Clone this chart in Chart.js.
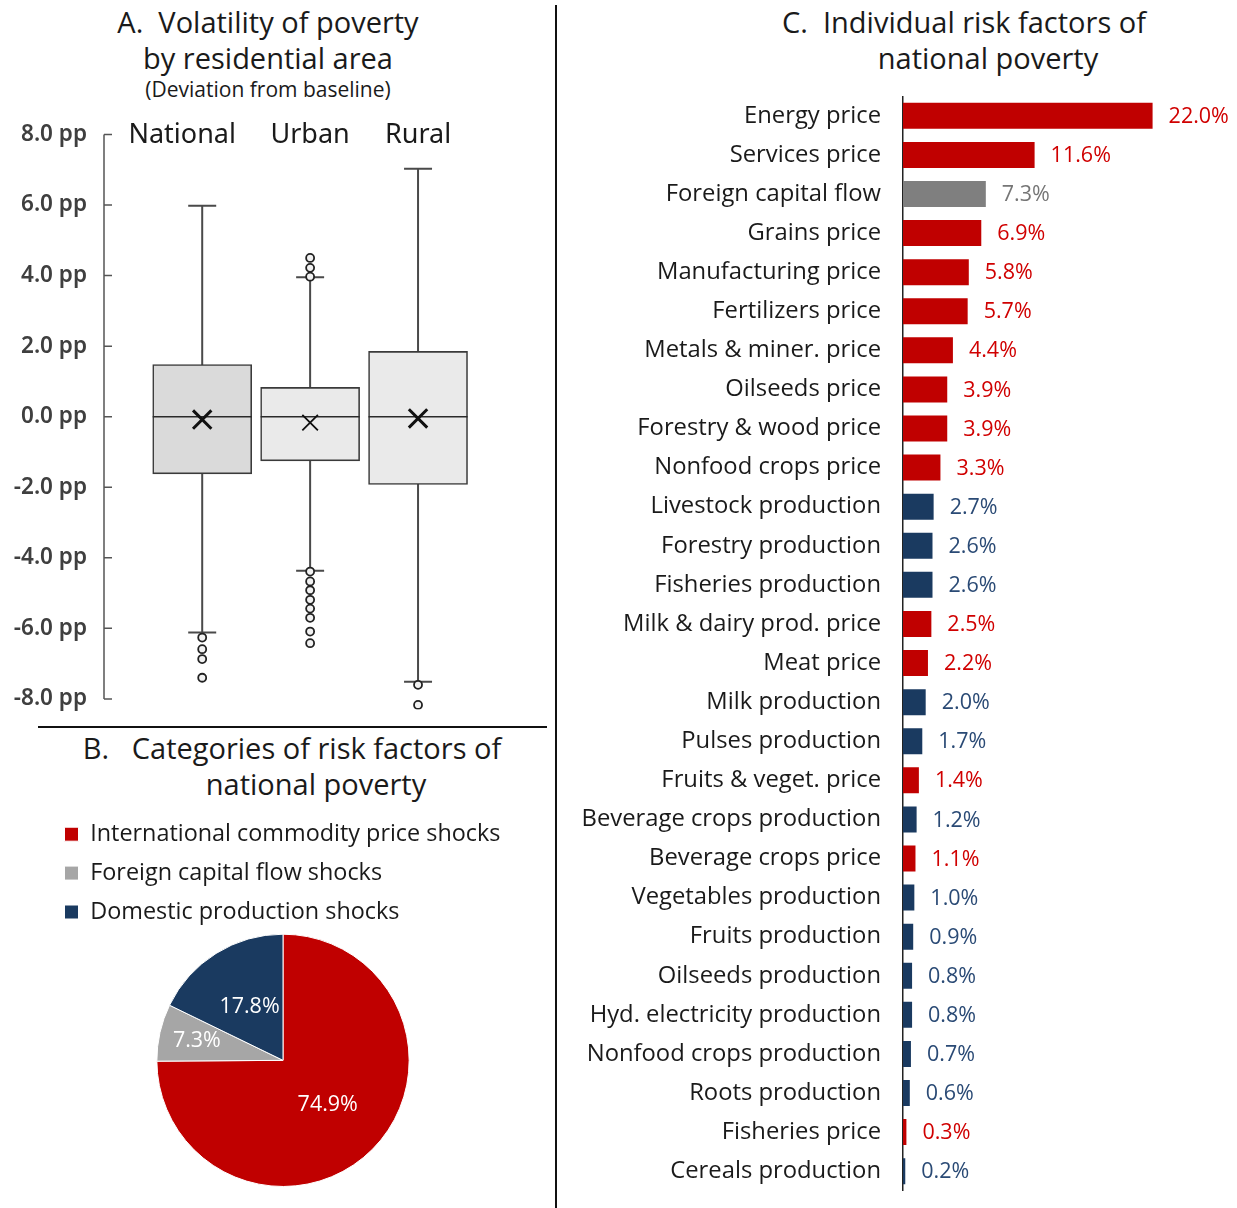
<!DOCTYPE html>
<html>
<head>
<meta charset="utf-8">
<script src="https://cdn.jsdelivr.net/npm/chart.js@4.4.0/dist/chart.umd.min.js"></script>
<style>
  body { margin: 0; background: #fff; width: 1237px; height: 1208px; position: relative; overflow: hidden; font-family: "Open Sans", sans-serif; color: #1a1a1a; }
  .title { position: absolute; text-align: center; white-space: nowrap; font-size: 29px; line-height: 36px; }
  .sub { font-size: 21px; }
  canvas { position: absolute; }
  .rule { position: absolute; background: #111; }
</style>
</head>
<body>
<div class="title" style="left:68px; top:4px; width:400px;">A.&nbsp;&nbsp;Volatility of poverty</div>
<div class="title" style="left:68px; top:40px; width:400px;">by residential area</div>
<div class="title sub" style="left:68px; top:71px; width:400px;">(Deviation from baseline)</div>
<div class="title" style="left:42px; top:730px; width:500px;">B.&nbsp;&nbsp;&nbsp;Categories of risk factors of</div>
<div class="title" style="left:66px; top:766px; width:500px;">national poverty</div>
<div class="title" style="left:764px; top:4px; width:400px;">C.&nbsp;&nbsp;Individual risk factors of</div>
<div class="title" style="left:788px; top:40px; width:400px;">national poverty</div>
<div class="rule" style="left:555px; top:5px; width:2px; height:1203px;"></div>
<div class="rule" style="left:38px; top:726px; width:509px; height:2px;"></div>

<canvas id="boxChart" width="550" height="636" style="left:0; top:104px;"></canvas>
<canvas id="pieChart" width="490" height="388" style="left:40px; top:807px;"></canvas>
<canvas id="barChart" width="677" height="1167" style="left:560px; top:60px;"></canvas>

<script>
// ---- Panel A : box plots (pp deviation from baseline)
const areaNames = ['National', 'Urban', 'Rural'];
const areaPos = [1, 2, 3];
const boxQ1 = [-1.62, -1.25, -1.92];
const boxQ3 = [1.48, 0.83, 1.85];
const boxMedian = [0, 0, 0];
const boxMean = [-0.08, -0.17, -0.05];
const whiskerLow = [-6.12, -4.37, -7.51];
const whiskerHigh = [5.98, 3.95, 7.03];
const outliersNational = [-6.26, -6.59, -6.87, -7.40];
const outliersUrban = [4.50, 4.22, 3.97, -4.39, -4.67, -4.92, -5.19, -5.44, -5.70, -6.09, -6.42];
const outliersRural = [-7.60, -8.17];
const yTicks = [-8, -6, -4, -2, 0, 2, 4, 6, 8];

// ---- Panel B : categories of risk factors (% share)
const shockCategories = ['International commodity price shocks', 'Foreign capital flow shocks', 'Domestic production shocks'];
const shockShares = [74.9, 7.3, 17.8];

// ---- Panel C : individual risk factors (% share)
const factorNames = ['Energy price', 'Services price', 'Foreign capital flow', 'Grains price', 'Manufacturing price',
  'Fertilizers price', 'Metals & miner. price', 'Oilseeds price', 'Forestry & wood price', 'Nonfood crops price',
  'Livestock production', 'Forestry production', 'Fisheries production', 'Milk & dairy prod. price', 'Meat price',
  'Milk production', 'Pulses production', 'Fruits & veget. price', 'Beverage crops production', 'Beverage crops price',
  'Vegetables production', 'Fruits production', 'Oilseeds production', 'Hyd. electricity production',
  'Nonfood crops production', 'Roots production', 'Fisheries price', 'Cereals production'];
const factorShares = [22.0, 11.6, 7.3, 6.9, 5.8, 5.7, 4.4, 3.9, 3.9, 3.3, 2.7, 2.6, 2.6, 2.5, 2.2,
  2.0, 1.7, 1.4, 1.2, 1.1, 1.0, 0.9, 0.8, 0.8, 0.7, 0.6, 0.3, 0.2];
const factorGroup = ['price', 'price', 'capital', 'price', 'price', 'price', 'price', 'price', 'price', 'price',
  'prod', 'prod', 'prod', 'price', 'price', 'prod', 'prod', 'price', 'prod', 'price',
  'prod', 'prod', 'prod', 'prod', 'prod', 'prod', 'price', 'prod'];

const RED = '#C00000', GREY = '#A6A6A6', NAVY = '#1A3A60';
const barFill = { price: RED, capital: '#7F7F7F', prod: NAVY };
const labelInk = { price: '#D00000', capital: '#767676', prod: '#2A4A75' };
const FONT = '"Open Sans"';
const nameNudge = [-20, 0, 0]; // horizontal shift of the area names, px

// ---------- Panel A
const boxParts = {
    id: 'boxParts',
    beforeDatasetsDraw(chart) {
        const { ctx, scales: { x, y } } = chart;
        ctx.save();
        ctx.strokeStyle = '#4a4a4a';
        ctx.lineWidth = 2;
        areaPos.forEach((p, i) => {
            const cx = x.getPixelForValue(p);
            ctx.beginPath();
            ctx.moveTo(cx, y.getPixelForValue(whiskerLow[i]));
            ctx.lineTo(cx, y.getPixelForValue(whiskerHigh[i]));
            [whiskerLow[i], whiskerHigh[i]].forEach(v => {
                const py = y.getPixelForValue(v);
                ctx.moveTo(cx - 14, py);
                ctx.lineTo(cx + 14, py);
            });
            ctx.stroke();
        });
        ctx.restore();
    },
    afterDatasetDraw(chart, args) {
        if (args.index !== 0) return;
        const { ctx, scales: { y } } = chart;
        ctx.save();
        ctx.strokeStyle = '#2a2a2a';
        ctx.lineWidth = 1.6;
        args.meta.data.forEach((bar, i) => {
            const py = y.getPixelForValue(boxMedian[i]);
            ctx.beginPath();
            ctx.moveTo(bar.x - bar.width / 2, py);
            ctx.lineTo(bar.x + bar.width / 2, py);
            ctx.stroke();
        });
        ctx.restore();
    },
    afterDraw(chart) {
        const { ctx, chartArea, scales: { x, y } } = chart;
        const top = y.getPixelForValue(yTicks[yTicks.length - 1]);
        const bottom = y.getPixelForValue(yTicks[0]);
        ctx.save();
        // axis line and inward tick marks
        ctx.strokeStyle = '#555';
        ctx.lineWidth = 1.5;
        ctx.beginPath();
        ctx.moveTo(chartArea.left, top);
        ctx.lineTo(chartArea.left, bottom);
        yTicks.forEach(v => {
            const py = y.getPixelForValue(v);
            ctx.moveTo(chartArea.left, py);
            ctx.lineTo(chartArea.left + 8, py);
        });
        ctx.stroke();
        // area names on top
        ctx.fillStyle = '#1a1a1a';
        ctx.font = '27px "Noto Sans"';
        ctx.textAlign = 'center';
        ctx.textBaseline = 'middle';
        areaNames.forEach((n, i) => ctx.fillText(n, x.getPixelForValue(areaPos[i]) + nameNudge[i], top + 1));
        ctx.restore();
    }
};

const outlierPoints = [];
[outliersNational, outliersUrban, outliersRural].forEach((arr, i) => {
    arr.forEach(v => outlierPoints.push({ x: areaPos[i], y: v }));
});

new Chart(document.getElementById('boxChart'), {
    type: 'bar',
    data: {
        datasets: [{
            type: 'bar',
            data: areaPos.map((p, i) => ({ x: p, y: [boxQ1[i], boxQ3[i]] })),
            backgroundColor: ['#DADADA', '#EAEAEA', '#EAEAEA'],
            borderColor: '#3a3a3a',
            borderWidth: 1.6,
            borderSkipped: false,
            barThickness: 99,
            order: 3
        }, {
            type: 'scatter',
            data: outlierPoints,
            pointStyle: 'circle',
            radius: 4,
            backgroundColor: '#F2F2F2',
            borderColor: '#222',
            borderWidth: 1.8,
            order: 2
        }, {
            type: 'scatter',
            data: areaPos.map((p, i) => ({ x: p, y: boxMean[i] })),
            pointStyle: 'crossRot',
            radius: [13, 11, 13],
            borderColor: '#111',
            borderWidth: [3, 1.8, 3],
            order: 1
        }]
    },
    options: {
        responsive: false,
        animation: false,
        layout: { padding: { right: 78 } },
        scales: {
            x: { type: 'linear', display: false, min: 0.09, max: 3.5, offset: false },
            y: {
                min: -8.3, max: 8,
                afterFit(s) { s.width = 104; },
                afterBuildTicks(s) { s.ticks = yTicks.map(v => ({ value: v })); },
                grid: { display: false, drawTicks: false },
                border: { display: false },
                ticks: {
                    padding: 17, color: '#3f3f3f',
                    font: { family: '"Noto Sans"', size: 22.5, weight: '600' },
                    callback: v => v.toFixed(1) + ' pp'
                }
            }
        },
        plugins: { legend: { display: false }, tooltip: { enabled: false } }
    },
    plugins: [boxParts]
});

// ---------- Panel B
const labelRadius = [0.5, 0.7, 0.5];
const pieLabels = {
    id: 'pieLabels',
    afterDatasetsDraw(chart) {
        const { ctx } = chart;
        ctx.save();
        ctx.fillStyle = '#fff';
        ctx.font = '21.5px ' + FONT;
        ctx.textAlign = 'center';
        ctx.textBaseline = 'middle';
        chart.getDatasetMeta(0).data.forEach((arc, i) => {
            const mid = (arc.startAngle + arc.endAngle) / 2;
            const r = arc.outerRadius * labelRadius[i];
            ctx.fillText(shockShares[i].toFixed(1) + '%', arc.x + Math.cos(mid) * r, arc.y + Math.sin(mid) * r);
        });
        ctx.restore();
    }
};

new Chart(document.getElementById('pieChart'), {
    type: 'pie',
    data: {
        labels: shockCategories,
        datasets: [{ data: shockShares, backgroundColor: [RED, GREY, NAVY], borderColor: '#fff', borderWidth: 1 }]
    },
    options: {
        responsive: false,
        animation: false,
        layout: { padding: { left: 9, right: 13, bottom: 8 } },
        plugins: {
            legend: {
                position: 'top',
                align: 'start',
                labels: { boxWidth: 14, boxHeight: 14, padding: 15.5, color: '#1a1a1a', font: { family: FONT, size: 23.4 } }
            },
            tooltip: { enabled: false }
        }
    },
    plugins: [pieLabels]
});

// ---------- Panel C
const valueLabels = {
    id: 'valueLabels',
    afterDatasetsDraw(chart) {
        const { ctx } = chart;
        ctx.save();
        ctx.font = '21.5px ' + FONT;
        ctx.textBaseline = 'middle';
        chart.getDatasetMeta(0).data.forEach((bar, i) => {
            ctx.fillStyle = labelInk[factorGroup[i]];
            ctx.fillText(factorShares[i].toFixed(1) + '%', bar.x + 16, bar.y + 1);
        });
        ctx.restore();
    }
};

new Chart(document.getElementById('barChart'), {
    type: 'bar',
    data: {
        labels: factorNames,
        datasets: [{
            data: factorShares,
            backgroundColor: factorGroup.map(g => barFill[g]),
            barPercentage: 0.665,
            categoryPercentage: 1
        }]
    },
    options: {
        indexAxis: 'y',
        responsive: false,
        animation: false,
        layout: { padding: { right: 5 } },
        scales: {
            x: { display: false, min: 0, max: 29 },
            y: {
                afterFit(s) { s.width = 343; },
                grid: { display: false, drawTicks: false },
                border: { color: '#222', width: 1.5 },
                ticks: { padding: 22, color: '#1a1a1a', font: { family: FONT, size: 23.8 } }
            }
        },
        plugins: { legend: { display: false }, tooltip: { enabled: false } }
    },
    plugins: [valueLabels]
});
</script>
</body>
</html>
